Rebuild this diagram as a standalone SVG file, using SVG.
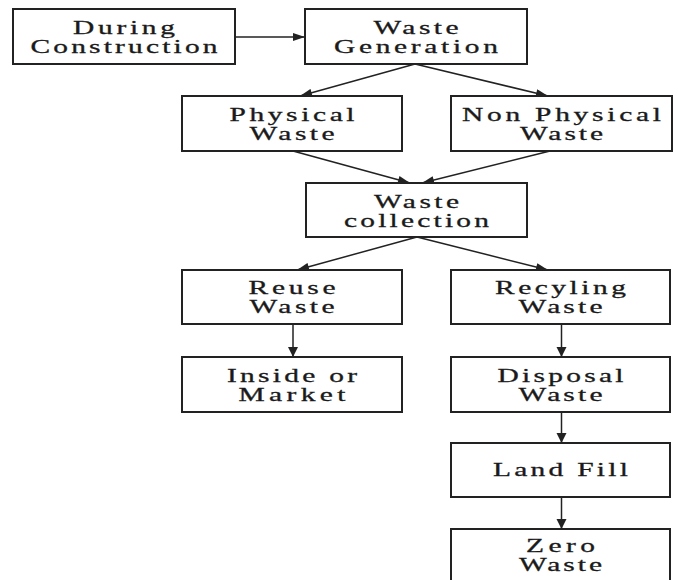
<svg xmlns="http://www.w3.org/2000/svg" width="678" height="580" viewBox="0 0 678 580">
<style>
.box{fill:#fff;stroke:#222;stroke-width:2}
.t{font-family:"Liberation Serif","Times New Roman",serif;font-size:19px;fill:#1a1a1a;stroke:#1a1a1a;stroke-width:0.3;text-anchor:middle}
.c{stroke:#222;stroke-width:1.5;fill:none}
</style>
<defs>
<marker id="a" viewBox="0 0 12 8" refX="12" refY="4" markerWidth="13" markerHeight="8" markerUnits="userSpaceOnUse" orient="auto"><path d="M0,0 L12,4 L0,8 z" fill="#222"/></marker>
<marker id="v" viewBox="0 0 10 10" refX="10" refY="5" markerWidth="10" markerHeight="11" markerUnits="userSpaceOnUse" orient="auto"><path d="M0,0 L10,5 L0,10 z" fill="#222"/></marker>
</defs>
<rect width="678" height="580" fill="#fff"/>
<g id="connectors">
<line class="c" x1="235" y1="37" x2="305" y2="37" marker-end="url(#a)"/>
<line class="c" x1="415" y1="64" x2="300" y2="96" marker-end="url(#a)"/>
<line class="c" x1="415" y1="64" x2="548" y2="96" marker-end="url(#a)"/>
<line class="c" x1="293" y1="151" x2="410" y2="183" marker-end="url(#a)"/>
<line class="c" x1="550" y1="151" x2="422" y2="183" marker-end="url(#a)"/>
<line class="c" x1="417" y1="237" x2="297" y2="270" marker-end="url(#a)"/>
<line class="c" x1="417" y1="237" x2="548" y2="270" marker-end="url(#a)"/>
<line class="c" x1="293" y1="324" x2="293" y2="357" marker-end="url(#v)"/>
<line class="c" x1="561.5" y1="324" x2="561.5" y2="357" marker-end="url(#v)"/>
<line class="c" x1="561.5" y1="412" x2="561.5" y2="443" marker-end="url(#v)"/>
<line class="c" x1="561.5" y1="497" x2="561.5" y2="529" marker-end="url(#v)"/>
</g>
<g id="during">
<rect class="box" x="13" y="9" width="222" height="55"/>
<text class="t" transform="scale(1.55 1)" x="80" y="34" textLength="65.81" lengthAdjust="spacing">During</text>
<text class="t" transform="scale(1.55 1)" x="80" y="53" textLength="120.65" lengthAdjust="spacing">Construction</text>
</g>
<g id="generation">
<rect class="box" x="305" y="9" width="222" height="55"/>
<text class="t" transform="scale(1.55 1)" x="268.39" y="34" textLength="54.84" lengthAdjust="spacing">Waste</text>
<text class="t" transform="scale(1.55 1)" x="268.39" y="53" textLength="105.81" lengthAdjust="spacing">Generation</text>
</g>
<g id="physical">
<rect class="box" x="182" y="96" width="220" height="55"/>
<text class="t" transform="scale(1.55 1)" x="188.39" y="121" textLength="80.65" lengthAdjust="spacing">Physical</text>
<text class="t" transform="scale(1.55 1)" x="188.39" y="140" textLength="54.84" lengthAdjust="spacing">Waste</text>
</g>
<g id="nonphysical">
<rect class="box" x="451" y="96" width="221" height="55"/>
<text class="t" transform="scale(1.55 1)" x="362.26" y="121" textLength="128.39" lengthAdjust="spacing">Non Physical</text>
<text class="t" transform="scale(1.55 1)" x="362.26" y="140" textLength="53.55" lengthAdjust="spacing">Waste</text>
</g>
<g id="collection">
<rect class="box" x="306" y="183" width="221" height="54"/>
<text class="t" transform="scale(1.55 1)" x="268.71" y="208" textLength="54.84" lengthAdjust="spacing">Waste</text>
<text class="t" transform="scale(1.55 1)" x="268.71" y="227" textLength="93.55" lengthAdjust="spacing">collection</text>
</g>
<g id="reuse">
<rect class="box" x="182" y="270" width="220" height="54"/>
<text class="t" transform="scale(1.55 1)" x="188.39" y="294" textLength="56.13" lengthAdjust="spacing">Reuse</text>
<text class="t" transform="scale(1.55 1)" x="188.39" y="313" textLength="54.84" lengthAdjust="spacing">Waste</text>
</g>
<g id="recycling">
<rect class="box" x="451" y="270" width="219" height="54"/>
<text class="t" transform="scale(1.55 1)" x="361.61" y="294" textLength="84.52" lengthAdjust="spacing">Recyling</text>
<text class="t" transform="scale(1.55 1)" x="361.61" y="313" textLength="54.19" lengthAdjust="spacing">Waste</text>
</g>
<g id="inside">
<rect class="box" x="182" y="357" width="220" height="55"/>
<text class="t" transform="scale(1.55 1)" x="188.39" y="382" textLength="83.87" lengthAdjust="spacing">Inside or</text>
<text class="t" transform="scale(1.55 1)" x="188.39" y="401" textLength="69.03" lengthAdjust="spacing">Market</text>
</g>
<g id="disposal">
<rect class="box" x="451" y="357" width="219" height="55"/>
<text class="t" transform="scale(1.55 1)" x="361.61" y="382" textLength="81.29" lengthAdjust="spacing">Disposal</text>
<text class="t" transform="scale(1.55 1)" x="361.61" y="401" textLength="54.19" lengthAdjust="spacing">Waste</text>
</g>
<g id="landfill">
<rect class="box" x="451" y="443" width="219" height="54"/>
<text class="t" transform="scale(1.55 1)" x="361.61" y="476" textLength="87.1" lengthAdjust="spacing">Land Fill</text>
</g>
<g id="zero">
<rect class="box" x="451" y="529" width="219" height="60"/>
<text class="t" transform="scale(1.55 1)" x="361.61" y="552" textLength="44.52" lengthAdjust="spacing">Zero</text>
<text class="t" transform="scale(1.55 1)" x="361.61" y="571" textLength="53.55" lengthAdjust="spacing">Waste</text>
</g>
</svg>
